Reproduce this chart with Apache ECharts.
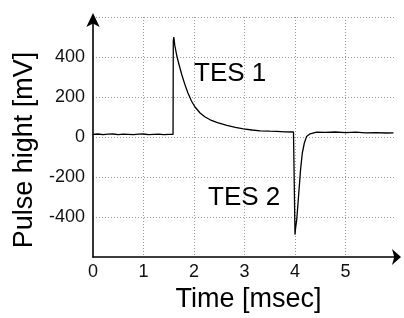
<!DOCTYPE html>
<html>
<head>
<meta charset="utf-8">
<script src="https://cdn.jsdelivr.net/npm/echarts@6/dist/echarts.min.js"></script>
<style>html,body{margin:0;padding:0;background:#fff}#c{width:404px;height:318px}</style>
</head>
<body>
<div id="c"></div>
<script>
// Time [msec]
const times = [0, 0.1, 0.2, 0.3, 0.4, 0.5, 0.6, 0.7, 0.8, 0.9, 1.0, 1.1, 1.2, 1.3, 1.4, 1.5, 1.585,
  1.59, 1.60, 1.62, 1.66, 1.70, 1.76, 1.82, 1.88, 1.95, 2.02, 2.12, 2.22, 2.32, 2.45, 2.65, 2.82, 2.98, 3.15, 3.31, 3.50, 3.64, 3.80, 3.97, 3.985,
  4.0, 4.01, 4.034, 4.06, 4.085, 4.11, 4.145, 4.185, 4.23, 4.30, 4.43, 4.6, 4.8, 5.0, 5.2, 5.4, 5.6, 5.8, 5.95];
// Pulse hight [mV]
const values = [13, 15, 12, 14, 15, 12, 14, 13, 12, 14, 15, 12, 13, 14, 12, 13, 13,
  480, 500, 458, 405, 365, 310, 262, 220, 180, 150, 120, 100, 86, 73, 58, 48, 41, 35, 31, 29, 28, 26, 25, 24,
  -488, -460, -413, -330, -247, -163, -80, -30, 3, 16, 24, 23, 25, 22, 24, 21, 22, 20, 21];
const xTicks = [0, 1, 2, 3, 4, 5];
const yTicks = [-400, -200, 0, 200, 400];
const annotations = ["TES 1", "TES 2"];

const chart = echarts.init(document.getElementById('c'), null, {renderer: 'canvas'});
const font = 'Liberation Sans, Arial, sans-serif';
chart.setOption({
  animation: false,
  grid: {left: 93, right: 8, top: 17, bottom: 61, containLabel: false},
  xAxis: {
    type: 'value', min: 0, max: 6, interval: 1,
    name: 'Time [msec]', nameLocation: 'middle', nameGap: 26,
    nameTextStyle: {fontFamily: font, fontSize: 27, color: '#000', padding: [0, 0, 0, 8]},
    axisLine: {show: true, onZero: false, symbol: ['none', 'arrow'], symbolSize: [12, 9], symbolOffset: [0, 5],
      lineStyle: {color: '#000', width: 1.6}},
    axisTick: {show: false},
    axisLabel: {margin: 6, fontFamily: font, fontSize: 18, color: '#111',
      formatter: v => xTicks.indexOf(v) >= 0 ? String(v) : ''},
    splitLine: {show: true, showMinLine: false, showMaxLine: false,
      lineStyle: {color: '#999', type: [1, 2], width: 1}}
  },
  yAxis: {
    type: 'value', min: -600, max: 600, interval: 200,
    name: 'Pulse hight [mV]', nameLocation: 'middle', nameGap: 52, nameRotate: 90,
    nameTextStyle: {fontFamily: font, fontSize: 27, color: '#000', padding: [0, 26, 0, 0]},
    axisLine: {show: true, onZero: false, symbol: ['none', 'arrow'], symbolSize: [10, 14], symbolOffset: [0, 4],
      lineStyle: {color: '#000', width: 1.6}},
    axisTick: {show: false},
    axisLabel: {margin: 8, fontFamily: font, fontSize: 18, color: '#111',
      formatter: v => yTicks.indexOf(v) >= 0 ? String(v) : ''},
    splitLine: {show: true, showMinLine: false, showMaxLine: true,
      lineStyle: {color: '#999', type: [1, 2], width: 1}}
  },
  graphic: [
    {type: 'text', left: 194, top: 61, style: {text: annotations[0], font: '26px ' + font, fill: '#000'}},
    {type: 'text', left: 208, top: 185, style: {text: annotations[1], font: '26px ' + font, fill: '#000'}}
  ],
  series: [{
    type: 'line', showSymbol: false, symbol: 'none',
    data: times.map((t, i) => [t, values[i]]),
    lineStyle: {color: '#000', width: 1.3}
  }]
});
</script>
</body>
</html>
